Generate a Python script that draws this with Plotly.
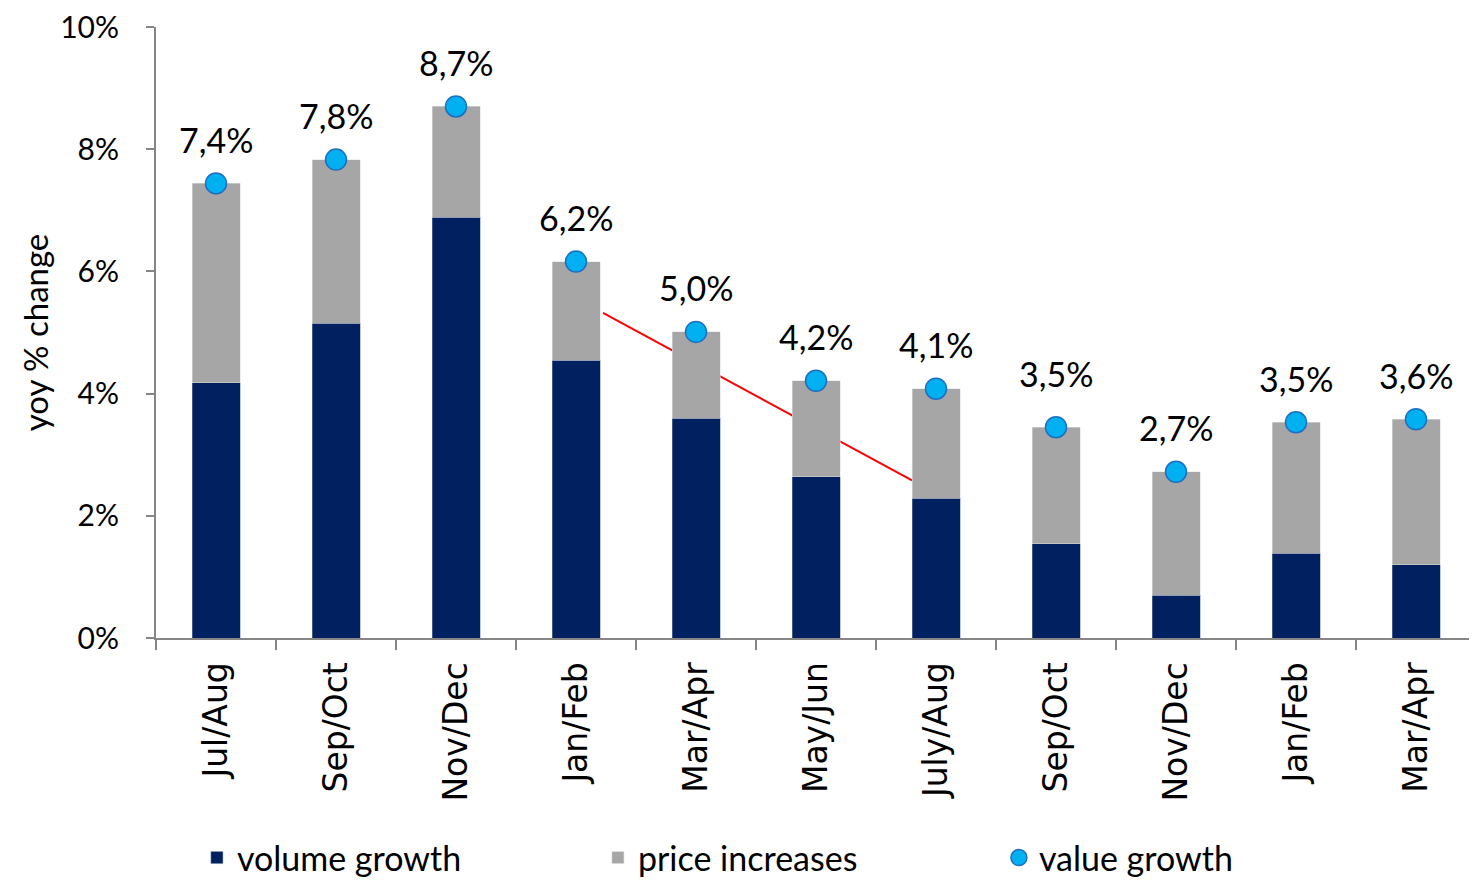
import plotly.graph_objects as go

categories = ["Jul/Aug", "Sep/Oct", "Nov/Dec", "Jan/Feb", "Mar/Apr", "May/Jun",
              "July/Aug", "Sep/Oct", "Nov/Dec", "Jan/Feb", "Mar/Apr"]
volume_growth = [4.18, 5.15, 6.89, 4.55, 3.60, 2.64, 2.29, 1.54, 0.70, 1.39, 1.20]
price_increases = [3.26, 2.68, 1.81, 1.61, 1.41, 1.57, 1.79, 1.91, 2.02, 2.14, 2.38]
value_growth = [7.44, 7.83, 8.70, 6.16, 5.01, 4.21, 4.08, 3.45, 2.72, 3.53, 3.58]
value_labels = ["7,4%", "7,8%", "8,7%", "6,2%", "5,0%", "4,2%", "4,1%", "3,5%", "2,7%", "3,5%", "3,6%"]
y_tick_vals = [0, 2, 4, 6, 8, 10]
y_tick_text = ["0%", "2%", "4%", "6%", "8%", "10%"]
trend_x = [3.225, 5.8]
trend_y = [5.32, 2.58]

x = list(range(len(categories)))
NAVY = "#002060"
GRAY = "#A6A6A6"
CYAN = "#00B0F0"
LABEL_FONT = "Lato, 'Open Sans', sans-serif"

fig = go.Figure()
fig.add_trace(go.Bar(x=x, y=volume_growth, name="volume growth", width=0.4,
                     marker=dict(color=NAVY, line=dict(width=0.5, color="#8090b0"))))
fig.add_trace(go.Bar(x=x, y=price_increases, name="price increases", width=0.4,
                     marker=dict(color=GRAY, line=dict(width=0.5, color="#e0e0e0"))))
fig.add_trace(go.Scatter(x=x, y=value_growth, name="value growth", mode="markers",
                         marker=dict(size=21, color=CYAN, line=dict(width=1.5, color="#1F6FC0"))))

for i, (xv, yv, lab) in enumerate(zip(x, value_growth, value_labels)):
    fig.add_annotation(x=xv, y=yv, text=lab, showarrow=False, yanchor="middle",
                       yshift=54 if i == 7 else 44,
                       font=dict(family=LABEL_FONT, size=34, color="black"))

fig.add_shape(type="line", x0=trend_x[0], y0=trend_y[0], x1=trend_x[1], y1=trend_y[1],
              xref="x", yref="y", line=dict(color="red", width=2), layer="below")

fig.update_layout(
    barmode="stack",
    width=1469, height=872,
    margin=dict(l=148, r=1, t=19, b=242, autoexpand=False),
    plot_bgcolor="white", paper_bgcolor="white",
    bargap=0.6,
    legend=dict(orientation="h", x=0.031, y=-0.36, xanchor="left", yanchor="middle",
                entrywidth=356, entrywidthmode="pixels", traceorder="normal",
                font=dict(family=LABEL_FONT, size=34, color="black")),
    showlegend=True,
)
fig.update_xaxes(
    range=[-0.5, 10.5], tickmode="array", tickvals=x, ticktext=categories,
    tickangle=-90, ticks="", showgrid=False, zeroline=False, automargin=False,
    showline=True, linecolor="#868686", linewidth=2,
    tickfont=dict(family="DejaVu Sans", size=33, color="black"),
    ticklabelstandoff=9,
    minor=dict(ticks="outside", tickmode="linear", tick0=-0.5, dtick=1,
               ticklen=10, tickcolor="#868686", tickwidth=2, showgrid=False),
)
fig.update_yaxes(
    range=[0, 10], tickmode="array", tickvals=y_tick_vals, ticktext=y_tick_text,
    ticks="outside", ticklen=8, tickcolor="#868686", tickwidth=2, automargin=False,
    showgrid=False, zeroline=False, showline=True, linecolor="#868686", linewidth=2,
    tickfont=dict(family=LABEL_FONT, size=30, color="black"),
    ticklabelstandoff=21, ticklabeloverflow="allow",
    title=dict(text="yoy % change", standoff=2,
               font=dict(family=LABEL_FONT, size=33, color="black")),
)

fig.write_html("out.html")
